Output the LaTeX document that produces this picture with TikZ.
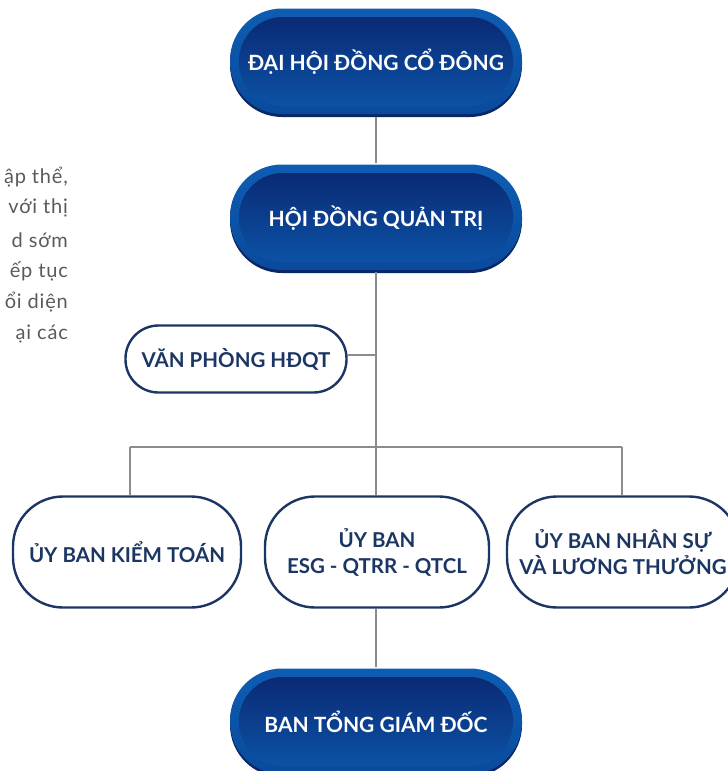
\documentclass[tikz,border=0pt]{standalone}
\usepackage{fontspec}
\setmainfont{Lato}
\usetikzlibrary{calc}
\definecolor{navy}{HTML}{1C3664}
\definecolor{lineg}{HTML}{8C8C8C}
\definecolor{outtop}{HTML}{0D5DB2}
\definecolor{outbot}{HTML}{0A4A9C}
\definecolor{intop}{HTML}{0A2A74}
\definecolor{inbot}{HTML}{0C52A6}
\definecolor{shad}{HTML}{0A2766}
\definecolor{txtg}{HTML}{5A5A5A}
\tikzset{
  conn/.style={draw=lineg, line width=1.1pt},
  darkbox/.style={minimum width=292pt, minimum height=107pt, inner sep=0pt, text=white, font=\bfseries\fontsize{21}{24}\selectfont},
  whitebox/.style={draw=navy, line width=2.4pt, fill=white, rounded corners=50pt, inner sep=0pt, text=navy, align=center, font=\bfseries\fontsize{20.5}{26}\selectfont},
  sidetext/.style={anchor=east, text=txtg, font=\fontsize{20}{22}\selectfont\addfontfeatures{LetterSpace=4}, inner sep=0pt}
}
\newcommand\darkpill[4]{%
  \fill[shad, rounded corners=52pt] ({#2-146},{#3-52}) rectangle ({#2+146},{#3+55});
  \shade[top color=outtop, bottom color=outbot, rounded corners=52pt] ({#2-146},{#3-53.5}) rectangle ({#2+146},{#3+52});
  \shade[top color=intop, bottom color=inbot, rounded corners=44pt] ({#2-137},{#3-45}) rectangle ({#2+137},{#3+44});
  \node[darkbox] (#1) at (#2,#3) {#4};
}
\begin{document}
\begin{tikzpicture}[x=1pt,y=-1pt]
\useasboundingbox (0,0) rectangle (728,771);
\begin{scope}
\clip (0,0) rectangle (728,771);
% side text
\node[sidetext] (s1) at (68,177) {ập thể,};
\node[sidetext] (s2) at (68,208) {với thị};
\node[sidetext] (s3) at (68,240) {d sớm};
\node[sidetext] (s4) at (68,271) {ếp tục};
\node[sidetext] (s5) at (68,302) {ổi diện};
\node[sidetext] (s6) at (68,334) {ại các};

\darkpill{dhd}{376}{62}{ĐẠI HỘI ĐỒNG CỔ ĐÔNG}
\darkpill{hdqt}{376}{218}{HỘI ĐỒNG QUẢN TRỊ}
\darkpill{btgd}{376}{722}{BAN TỔNG GIÁM ĐỐC}

\node[whitebox, minimum width=221pt, minimum height=67pt, rounded corners=33pt] (vp) at (236,359) {VĂN PHÒNG HĐQT};
\node[whitebox, minimum width=228pt, minimum height=111pt] (kt) at (127,552) {ỦY BAN KIỂM TOÁN};
\node[whitebox, minimum width=224pt, minimum height=111pt] (esg) at (377,552) {ỦY BAN\\ESG - QTRR - QTCL};
\node[whitebox, minimum width=232pt, minimum height=111pt] (ns) at (623,552) {ỦY BAN NHÂN SỰ\\VÀ LƯƠNG THƯỞNG};

\coordinate (jn) at (376,447);
\coordinate (jl) at (130,447);
\coordinate (jr) at (622,447);
\coordinate (jv) at (376,355);

\draw[conn] ([yshift=-1pt]dhd.south) -- ([yshift=1pt]hdqt.north);
\draw[conn] (hdqt.south) -- (jn);
\draw[conn] (vp.east |- jv) -- (jv);
\draw[conn] (jl) -- (jr);
\draw[conn] (jl) -- (jl |- kt.north);
\draw[conn] (jr) -- (jr |- ns.north);
\draw[conn] (jn) -- (jn |- esg.north);
\draw[conn] (jn |- esg.south) -- ([yshift=1pt]btgd.north);
\end{scope}
\end{tikzpicture}
\end{document}
